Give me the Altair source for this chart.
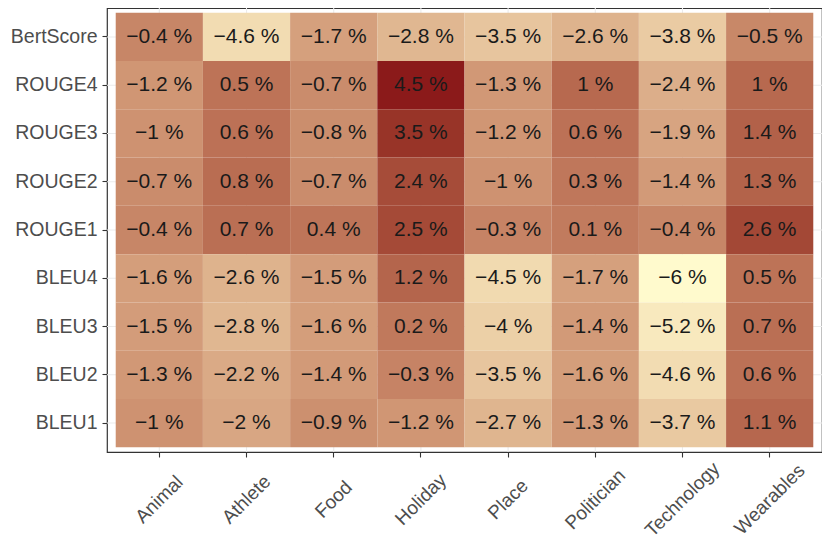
import altair as alt
import pandas as pd

categories = ["Animal", "Athlete", "Food", "Holiday", "Place", "Politician", "Technology", "Wearables"]
metrics = ["BertScore", "ROUGE4", "ROUGE3", "ROUGE2", "ROUGE1", "BLEU4", "BLEU3", "BLEU2", "BLEU1"]

bertscore = [-0.4, -4.6, -1.7, -2.8, -3.5, -2.6, -3.8, -0.5]
rouge4 = [-1.2, 0.5, -0.7, 4.5, -1.3, 1, -2.4, 1]
rouge3 = [-1, 0.6, -0.8, 3.5, -1.2, 0.6, -1.9, 1.4]
rouge2 = [-0.7, 0.8, -0.7, 2.4, -1, 0.3, -1.4, 1.3]
rouge1 = [-0.4, 0.7, 0.4, 2.5, -0.3, 0.1, -0.4, 2.6]
bleu4 = [-1.6, -2.6, -1.5, 1.2, -4.5, -1.7, -6, 0.5]
bleu3 = [-1.5, -2.8, -1.6, 0.2, -4, -1.4, -5.2, 0.7]
bleu2 = [-1.3, -2.2, -1.4, -0.3, -3.5, -1.6, -4.6, 0.6]
bleu1 = [-1, -2, -0.9, -1.2, -2.7, -1.3, -3.7, 1.1]

rows = [bertscore, rouge4, rouge3, rouge2, rouge1, bleu4, bleu3, bleu2, bleu1]

records = []
for m, vals in zip(metrics, rows):
    for c, v in zip(categories, vals):
        records.append({"metric": m, "category": c, "value": v,
                        "label": f"{v:g} %".replace("-", "\u2212")})
df = pd.DataFrame(records)

font = "Liberation Sans"
xscale = alt.Scale(domain=categories, paddingInner=0, paddingOuter=0.1)
yscale = alt.Scale(domain=metrics, paddingInner=0, paddingOuter=0.1)

xenc = alt.X("category:N", sort=categories, title=None, scale=xscale,
             axis=alt.Axis(labelAngle=-45, labelAlign="center", labelBaseline="middle",
                           bandPosition=0.5, grid=False,
                           tickColor="#333333", tickSize=5, tickWidth=1.1, labelPadding=42,
                           domain=False, labelColor="#4D4D4D", labelFontSize=19,
                           labelFont=font))
yenc = alt.Y("metric:N", sort=metrics, title=None, scale=yscale,
             axis=alt.Axis(bandPosition=0.5, grid=False,
                           tickColor="#333333", tickSize=5, tickWidth=1.1, labelPadding=5,
                           domain=False, labelColor="#4D4D4D", labelFontSize=19.5,
                           labelFont=font))

vgrid = alt.Chart(pd.DataFrame({"category": categories})).mark_rule(
    color="#EBEBEB", strokeWidth=1.1).encode(
    x=alt.X("category:N", sort=categories, scale=xscale, title=None))
hgrid = alt.Chart(pd.DataFrame({"metric": metrics})).mark_rule(
    color="#EBEBEB", strokeWidth=1.1).encode(
    y=alt.Y("metric:N", sort=metrics, scale=yscale, title=None))

base = alt.Chart(df).encode(x=xenc, y=yenc)

tiles = base.mark_rect().encode(
    color=alt.Color("value:Q",
                    scale=alt.Scale(domain=[-6, 4.5], range=["#FFFACD", "#8B1A1A"],
                                    interpolate="lab"),
                    legend=None)
)
text = base.mark_text(fontSize=21, font=font, color="#1A1A1A").encode(text="label:N")

chart = alt.layer(vgrid, hgrid, tiles, text).properties(
    width=715, height=444,
    autosize=alt.AutoSizeParams(type="none"),
    padding={"left": 99, "top": 0, "right": 0, "bottom": 90},
).configure_view(stroke="#333333", strokeWidth=1.2)

chart.save("out.html", embed_options={"renderer": "svg", "actions": False})
